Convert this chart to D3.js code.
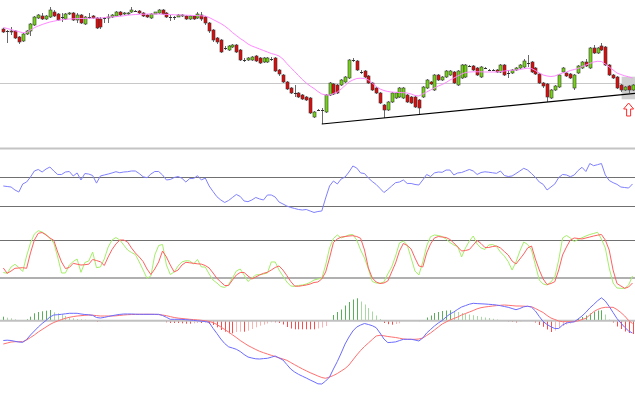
<!DOCTYPE html>
<html>
<head>
<meta charset="utf-8">
<script src="https://cdn.jsdelivr.net/npm/d3@7"></script>
<style>
    body { margin: 0; background: #ffffff; }
    svg { display: block; }
</style>
</head>
<body>
<svg name="chart" width="635" height="398"></svg>
<script>
// price candles (arbitrary price units, no axis is shown on the chart)
var opens = [171,169,169,169,163,159,166,169,175,182, 184,181,183,188,186,183,181,186,187,180, 185,176,183,184,182,181,182,182,183,184, 188,186,186,188,189,189,187,185,182,186, 187,190,187,183,183,183,184,184,181,184, 182,185,183,177,170,162,160,152,150,153, 155,150,140,140,140,144,142,138,138,141, 142,130,125,118,112,107,107,105,103,102, 83,90,90,88,105,116,115,115,118,122, 140,139,128,129,124,117,112,107,95,90, 98,102,103,102,105,103,103,100,103,112, 118,110,125,120,123,125,128,115,122,123, 134,134,132,123,132,130,130,130,128,135, 127,127,130,132,133,137,138,132,126,117, 116,102,110,113,128,127,126,112,127,132, 138,132,152,147,154,153,135,125,123,115, 110,114,110];
var highs = [172,170,173,170,164,167,170,177,184,186, 187,185,193,190,187,187,187,188,188,187, 186,184,187,185,183,183,183,186,186,189, 189,188,188,193,190,190,188,186,187,188, 191,191,188,185,184,186,186,185,185,185, 188,188,184,178,171,163,161,154,155,156, 156,151,142,143,144,145,143,143,143,143, 143,131,126,119,113,115,108,106,104,103, 89,91,92,106,118,117,116,121,124,141, 142,140,130,130,125,118,113,108,96,99, 108,108,113,113,106,104,104,101,114,121, 119,126,126,124,130,130,129,130,136,136, 135,135,133,134,133,131,131,131,136,136, 130,131,133,136,141,145,139,133,127,118, 117,111,115,126,133,128,127,126,135,139, 141,153,155,153,157,154,136,126,124,116, 114,115,116];
var lows = [167,157,165,161,156,158,165,164,174,181, 180,180,182,183,179,178,180,185,179,177, 176,175,181,181,171,171,177,177,182,183, 184,185,185,187,188,186,183,182,181,186, 186,185,182,179,180,183,183,180,180,180, 181,179,175,167,158,156,147,150,149,152, 147,139,138,139,139,138,136,137,137,139, 128,124,117,110,106,103,102,100,99,86, 82,89,76,87,104,105,106,114,117,121, 138,129,126,122,116,109,106,96,82,89, 97,101,102,101,97,96,92,85,102,111, 115,109,119,119,122,124,116,114,121,122, 133,129,124,122,131,129,129,127,127,124, 122,126,129,131,132,133,127,125,116,112, 98,101,109,112,127,123,121,110,126,131, 133,131,146,146,149,134,124,121,111,108, 109,107,109];
var closes = [168,169,168,162,158,166,169,176,183,185, 181,184,190,184,180,183,186,187,180,185, 177,183,183,182,172,173,182,183,185,188, 185,187,187,190,189,187,184,183,186,188, 190,186,183,183,183,185,185,181,184,181, 186,181,177,169,160,158,148,152,154,155, 148,140,140,142,143,139,137,142,142,141, 129,126,118,111,107,107,103,101,100,87, 88,90,90,105,117,106,107,120,123,140, 140,130,128,123,117,110,107,97,90,98, 107,107,112,112,98,97,93,92,113,120, 116,125,120,123,129,129,117,129,135,135, 134,130,125,133,132,130,130,128,135,125, 127,130,132,135,139,137,128,126,117,114, 103,110,114,125,132,124,122,125,134,138, 134,152,147,152,150,135,125,122,112,110, 113,110,115];

// moving average on the price panel
var maValues = [172.5,171.5,170.5,169.3,168.3,167.3,167.5,170,172.3,174, 175.5,176.8,178,178.8,179.6,180.2,180.7,181,181.2,181.4, 181.5,181.6,181.7,181.8,181.9,182,182.4,182.8,183.1,183.3, 183.7,184.2,184.8,185.2,185.5,185.7,185.8,185.9,186,186, 186,185.8,185.6,185.4,185.2,185,185,184.8,184.7,184.5, 184.4,184.2,184,182.5,180.5,178.5,176.5,174,171,167.5, 164.5,161.5,159,156,154,152.5,151,149.5,148,146.5, 145.5,144,141,136.5,132.5,128.5,124.5,120.5,117,114, 111.5,108.5,106,105,105,106.5,108,111,114.5,118, 120,121.5,121.8,121.5,120,117,113.5,111,109.5,108.5, 108,107.7,107.5,107.3,107,106,104.5,104,106,108, 110,112,114,115.5,117.5,120,122,124,126,127.5, 128,128.2,128.2,128.2,128,128,128,128,128.5,129, 129.5,129.8,130,130.5,131.2,131.8,131.5,129.5,127,125, 124,123.5,124,125.5,127,128,129.5,130.5,131.5,133.5, 135,136.5,138,138.7,138.5,136,133,130,127,125.5, 124.2,123.2,122];

// support line, horizontal level, highlighted zone and arrow
var trendStart = [82, 76];
var trendEnd = [140, 98];
var priceLevel = 117;
var zoneIndex = [159.2, 163];
var zonePrice = [100.7, 123.3];
var arrowIndex = 161;
var arrowPrice = 97;

// RSI
var rsiLevels = [70, 30];
var rsiValues = [58,57.3,56.6,52.5,49.7,60.8,63.5,70.4,78.7,80.8, 77.3,81.4,84.2,78.7,73.9,73.9,77.3,78,71.8,76, 66.3,75.2,74.5,72.5,62,71.8,73.2,74.5,76,77.7, 76.3,77.3,77.7,78.7,78.7,75.2,70.8,69.4,74.5,78, 78,73.2,66.3,67,69.7,71.1,68.6,63.5,68.3,68.3, 72.2,66.3,69,58,50.4,43.2,38.7,35.3,38,42.2, 46.3,43.6,37.3,36.4,38.7,42.2,40.1,38.7,45.6,45.6, 42.8,35.9,33.2,30.4,28.4,27,25.6,24.9,25.6,23.5, 21.5,22.8,23.5,41.5,58,64.9,60.8,67.7,70.4,77.3, 85.6,82.8,76,75.2,69,64.2,60.1,54.6,49,53.2, 58,62.6,63.5,66.3,61.5,61.5,60.1,59.4,66.3,73.9, 71.1,76,77.3,76.9,80,80,73.2,76,76.6,78.7, 80.8,78.7,73.9,76.6,77.6,77,76.2,75.5,78.7,72.5, 71.1,71.8,75.2,78.7,82.4,80,75.2,70,63.5,60.3, 52.5,56.6,60.8,69.7,73.9,73.2,70.8,73.2,79.4,83.8, 78,89,86,87.4,89,73.2,65.6,62.6,60.3,56.6, 55.9,55.2,60.8];

// Stochastic
var stochLevels = [80, 20];
var stochK = [28.7,27.4,37.4,41.6,36.6,30.3,54.7,75.3,89.5,94.7, 92.6,88.7,82.7,75.3,53.2,27.9,27.9,40.5,46,50, 29,44.5,46.8,61,36.3,37.4,50,68.9,80,83.9, 80,72.1,64.2,60.3,57.1,45.3,32.6,19.5,23.2,56.3, 71.3,72.9,40.5,25.5,29.5,39,45.3,47.3,46.8,42.1, 49.2,37.4,37.4,26.3,16.8,12.1,6.6,5,9.7,20, 31,34.2,24.7,14.5,20,24.7,25.5,26.3,27.9,45.3, 45.3,32.6,23.2,13.7,7.4,6.6,8.2,8.9,10.5,12.9, 16.8,18.4,19.5,40.5,67.4,82.4,87.9,83.2,85.5,87.9, 88.7,80,64.2,51.6,34.2,14.5,12.1,11.6,13.7,26.3, 37.4,54.7,75.3,78.4,72.1,51.6,31,24.7,45.3,70.5, 85.2,87.9,87.1,85.5,81.6,76.1,72.1,69.7,53.2,67.4, 78.4,86.3,73.7,67.4,65,72.1,72.9,69.7,61,54.7, 46,32.6,45.3,62.6,76.8,72.9,64.2,40.5,16.8,10.5, 8.9,13.7,21.6,48.4,83.2,87.1,83.2,77.6,80.8,83.6, 86.3,88.7,90.3,92.2,81.6,67.4,35.8,12.1,4.2,3.7, 3.7,8.9,23.2];
var stochD = [35.8,27.4,31,35.3,35.8,36.3,35.3,59.5,80,90.6, 91.8,87.9,83.2,79.5,61,45.3,35,36.6,43.2,41.8, 40.5,41,41.8,49.2,47.6,45.6,39.7,53.2,65,73.7, 80,80,76.8,67.4,59.5,53.2,46,34.2,25.5,34.2, 45.3,62.6,53.2,40.5,29.5,32.6,40.5,44.8,44,43.2, 42.4,41.9,39.7,35.8,27.9,19.5,13.7,8.2,8.2,16.8, 24.7,28.7,28.7,23.2,18.4,21.6,24.7,27.4,29,32.6, 36.6,39,32.6,23.9,14.5,7.4,6.9,7.9,8.9,10.5, 12.9,13.7,18.4,29.5,51.6,76.1,81.6,84.7,85.5,86.3, 86.8,85.5,82.7,64.2,35.8,20,13.7,11.3,12.1,15.3, 29.5,43.7,62.6,74.5,71.3,65.8,51.6,39,37.4,59.5, 73.7,83.2,85.5,84.7,83.9,80.8,75.3,68.9,62.6,63.4, 65,72.1,79.2,74.5,68.2,68.2,69.7,70.5,67.4,61.8, 56.3,46.8,42.1,50,57.9,67.4,70.5,50,32.6,18.4, 9.7,11.3,14.2,32.6,56.3,68.9,80,83.2,82.4,81.6, 83.2,84.7,86.3,87.6,88.7,80,64.2,32.6,11.3,7.4, 3.7,5.8,12.1];

// MACD
var macdMain = [-1.98,-1.95,-1.98,-2.06,-2.13,-2.16,-1.88,-1.43,-1.03,-0.63, -0.28,0.02,0.37,0.57,0.6,0.64,0.69,0.74,0.74,0.74, 0.67,0.62,0.59,0.54,0.32,0.27,0.33,0.42,0.5,0.57, 0.63,0.67,0.67,0.67,0.65,0.64,0.64,0.64,0.64,0.64, 0.64,0.52,0.34,0.14,0.14,0.14,0.13,0.1,0.07,0.03, -0.01,-0.05,-0.08,-0.18,-0.76,-1.28,-1.83,-2.28,-2.61,-2.73, -2.86,-3.08,-3.38,-3.63,-3.73,-3.81,-3.83,-3.79,-3.76,-3.65, -3.53,-3.73,-3.93,-4.38,-4.83,-5.13,-5.36,-5.55,-5.73,-5.93, -6.11,-6.31,-6.33,-6.03,-5.63,-4.83,-4.08,-3.23,-2.33,-1.63, -1.03,-0.63,-0.43,-0.28,-0.38,-0.5,-0.7,-1.23,-1.83,-2.19, -2.16,-2.12,-1.99,-1.86,-1.86,-1.86,-1.93,-2.03,-1.73,-1.23, -0.88,-0.53,-0.23,0.02,0.37,0.67,0.87,1.14,1.37,1.51, 1.65,1.74,1.71,1.69,1.67,1.64,1.61,1.57,1.5,1.42, 1.34,1.22,1.1,1.22,1.39,1.45,1.35,0.97,0.42,-0.08, -0.38,-0.61,-0.78,-0.78,-0.43,-0.23,-0.16,-0.11,0.17,0.47, 0.84,1.27,1.62,1.99,2.29,1.97,1.42,0.82,0.22,-0.23, -0.66,-1.03,-1.23];
var macdSignal = [-2.33,-2.23,-2.13,-2.1,-2.1,-2.1,-1.93,-1.68,-1.43,-1.13, -0.88,-0.63,-0.38,-0.18,-0.03,0.12,0.24,0.34,0.41,0.47, 0.5,0.54,0.57,0.55,0.51,0.47,0.47,0.47,0.47,0.49, 0.53,0.57,0.6,0.62,0.63,0.64,0.64,0.64,0.64,0.63, 0.61,0.57,0.5,0.41,0.32,0.26,0.22,0.18,0.14,0.11, 0.08,0.04,-0.01,-0.08,-0.18,-0.38,-0.63,-0.88,-1.13,-1.41, -1.68,-1.98,-2.23,-2.48,-2.68,-2.88,-3.06,-3.2,-3.33,-3.46, -3.59,-3.71,-3.83,-3.96,-4.18,-4.4,-4.61,-4.82,-5.01,-5.2, -5.36,-5.53,-5.68,-5.76,-5.63,-5.48,-5.28,-5.03,-4.78,-4.43, -3.93,-3.43,-2.98,-2.58,-2.23,-1.88,-1.53,-1.46,-1.51,-1.58, -1.63,-1.68,-1.75,-1.83,-1.86,-1.86,-1.86,-1.83,-1.73,-1.48, -1.23,-0.93,-0.63,-0.33,-0.13,0.07,0.22,0.37,0.57,0.72, 0.87,1.02,1.19,1.3,1.37,1.42,1.47,1.51,1.54,1.57, 1.54,1.51,1.47,1.47,1.45,1.43,1.4,1.22,1.02,0.82, 0.52,0.27,0.12,-0.03,-0.1,-0.1,-0.1,-0.1,-0.01,0.12, 0.24,0.57,0.9,1.12,1.27,1.34,1.34,1.34,1.12,0.82, 0.47,0.02,-0.28];
var macdHist = [0.4,0.3,0.24,0.14,0.07,0.05,0.14,0.4,0.74,0.87, 0.94,1,1.07,0.84,0.74,0.64,0.47,0.34,0.24,0.17, 0.14,0.11,0.07,0.04,-0.13,-0.08,-0.02,0.02,0.03,0.04, 0.04,0.05,0.04,0.03,0.02,0.01,0.01,0.02,0,0, 0.01,-0.03,-0.16,-0.23,-0.23,-0.23,-0.26,-0.3,-0.3,-0.26, -0.23,-0.23,-0.2,-0.33,-0.43,-0.66,-0.93,-1.1,-1.26,-1.26, -1.13,-1.1,-1.1,-1,-0.83,-0.66,-0.5,-0.4,-0.28,-0.16, -0.16,-0.23,-0.38,-0.63,-0.78,-0.86,-0.86,-0.86,-0.86,-0.86, -0.86,-0.78,-0.68,-0.53,-0.03,0.57,0.87,1.12,1.52,1.87, 2.12,2.24,1.92,1.62,1.27,0.92,0.52,0.17,-0.23,-0.35, -0.4,-0.33,-0.26,-0.03,0.02,0.02,-0.02,-0.05,0.02,0.32, 0.52,0.77,0.87,0.97,1.02,1.04,0.97,0.87,0.77,0.69, 0.62,0.55,0.47,0.39,0.32,0.27,0.19,0.12,0.05,0.02, -0.08,-0.13,-0.18,-0.08,0.02,0.04,0.01,-0.18,-0.43,-0.61, -0.88,-1.13,-0.98,-0.73,-0.53,-0.38,-0.28,-0.08,0.22,0.37, 0.52,0.72,0.87,1.02,1.04,0.62,0.12,-0.18,-0.58,-0.83, -1.08,-1.23,-1.33];

var svg = d3.select("svg[name='chart']"),
    width = +svg.attr("width"),
    N = closes.length;

var x = d3.scaleLinear().domain([0, N - 1]).range([3.3, 632.5]),
    yPrice = d3.scaleLinear().domain([52, 200]).range([148, 0]),
    yRsi = d3.scaleLinear().domain([30, 70]).range([206.3, 177.3]),
    yStoch = d3.scaleLinear().domain([20, 80]).range([278, 240]),
    yMacd = d3.scaleLinear().domain([0, 1]).range([320.7, 310.7]);

function px(i) { return Math.round(x(i)) + 0.5; }

function hline(y, color, w) {
    svg.append("line")
        .attr("x1", 0).attr("x2", width)
        .attr("y1", y).attr("y2", y)
        .attr("stroke", color)
        .attr("stroke-width", w);
}

function drawLine(values, scale, color) {
    var line = d3.line()
        .x(function (d, i) { return x(i); })
        .y(function (d) { return scale(d); });
    svg.append("path")
        .datum(values)
        .attr("fill", "none")
        .attr("stroke", color)
        .attr("stroke-width", 1)
        .attr("d", line);
}

function pricePanel() {
    // panel separator and level
    hline(148.5, "#c4c4c4", 2);
    hline(Math.round(yPrice(priceLevel)) + 0.5, "#c8c8c8", 1);

    svg.append("rect")
        .attr("x", x(zoneIndex[0]))
        .attr("y", yPrice(zonePrice[1]))
        .attr("width", x(zoneIndex[1]) - x(zoneIndex[0]))
        .attr("height", yPrice(zonePrice[0]) - yPrice(zonePrice[1]))
        .attr("fill", "#cfcfcf");

    var idx = d3.range(N);
    var g = svg.append("g");

    g.selectAll(".wick")
        .data(idx)
        .enter().append("line")
        .attr("class", "wick")
        .attr("x1", function (i) { return px(i); })
        .attr("x2", function (i) { return px(i); })
        .attr("y1", function (i) { return yPrice(highs[i]); })
        .attr("y2", function (i) { return yPrice(lows[i]); })
        .attr("stroke", "#6a6a6a")
        .attr("stroke-width", 1);

    g.selectAll(".body")
        .data(idx)
        .enter().append("rect")
        .attr("class", "body")
        .attr("x", function (i) { return px(i) - 1.5; })
        .attr("y", function (i) { return yPrice(Math.max(opens[i], closes[i])); })
        .attr("width", 3)
        .attr("height", function (i) { return Math.max(1, Math.abs(yPrice(opens[i]) - yPrice(closes[i]))); })
        .attr("fill", function (i) {
            if (opens[i] == closes[i]) return "#333333";
            return closes[i] > opens[i] ? "#74d414" : "#dd0b0b";
        })
        .attr("stroke", "#3a3a3a")
        .attr("stroke-width", function (i) { return opens[i] == closes[i] ? 0 : 0.6; });

    drawLine(maValues, yPrice, "#ff88ff");

    // support line extended to the right edge
    var slope = (yPrice(trendEnd[1]) - yPrice(trendStart[1])) / (x(trendEnd[0]) - x(trendStart[0]));
    var x1 = x(trendStart[0]), y1 = yPrice(trendStart[1]);
    svg.append("line")
        .attr("x1", x1).attr("y1", y1)
        .attr("x2", width).attr("y2", y1 + slope * (width - x1))
        .attr("stroke", "#000000")
        .attr("stroke-width", 1.2);

    // up arrow under the last candles
    var cx = x(arrowIndex), top = yPrice(arrowPrice);
    var p = d3.path();
    p.moveTo(cx, top);
    p.lineTo(cx + 5, top + 6);
    p.lineTo(cx + 2, top + 6);
    p.lineTo(cx + 2, top + 13);
    p.lineTo(cx - 2, top + 13);
    p.lineTo(cx - 2, top + 6);
    p.lineTo(cx - 5, top + 6);
    p.closePath();
    svg.append("path")
        .attr("d", p.toString())
        .attr("fill", "#ffffff")
        .attr("stroke", "#ff2a2a")
        .attr("stroke-width", 1);
}

function rsiPanel() {
    rsiLevels.forEach(function (v) { hline(Math.round(yRsi(v)) + 0.5, "#707070", 1); });
    drawLine(rsiValues, yRsi, "#8080ff");
}

function stochPanel() {
    hline(Math.round(yStoch(stochLevels[0])) + 0.5, "#707070", 1);
    hline(Math.round(yStoch(stochLevels[1])), "#b0b0b0", 2);
    drawLine(stochK, yStoch, "#a6ee6a");
    drawLine(stochD, yStoch, "#ff6060");
}

function macdPanel() {
    var zero = yMacd(0);
    svg.selectAll(".hist")
        .data(macdHist)
        .enter().append("line")
        .attr("class", "hist")
        .attr("x1", function (d, i) { return px(i); })
        .attr("x2", function (d, i) { return px(i); })
        .attr("y1", zero)
        .attr("y2", function (d) { return yMacd(d); })
        .attr("stroke", function (d, i) {
            var prev = i > 0 ? macdHist[i - 1] : d;
            if (d >= 0) return d >= prev ? "#58b058" : "#aad8a4";
            return d <= prev ? "#ff4a4a" : "#ffb0b0";
        })
        .attr("stroke-width", 1);

    hline(zero, "#c0c0c0", 2);
    drawLine(macdSignal, yMacd, "#ff7070");
    drawLine(macdMain, yMacd, "#6c6cff");
}

pricePanel();
rsiPanel();
stochPanel();
macdPanel();
</script>
</body>
</html>
